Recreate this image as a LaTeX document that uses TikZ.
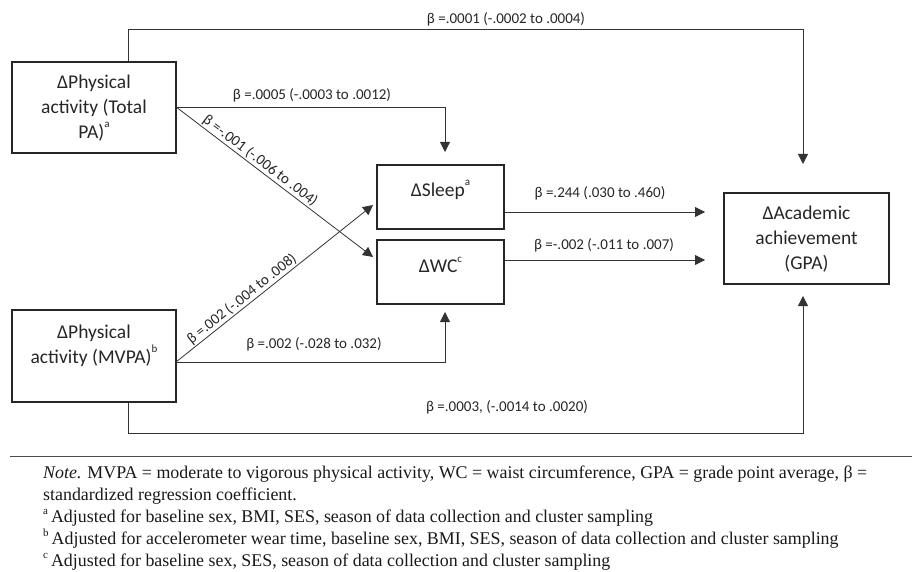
\documentclass[tikz,border=0pt]{standalone}
\usepackage{fontspec}
\setmainfont{Carlito}
\newfontfamily\notefont{Liberation Serif}
\usetikzlibrary{arrows.meta}
\newcommand{\supr}[1]{\raisebox{0.55em}{\fontsize{11}{11}\selectfont #1}}
\newcommand{\nsup}[1]{\raisebox{0.45em}{\fontsize{11}{11}\selectfont #1}\,}
\begin{document}
\begin{tikzpicture}[x=1pt,y=-1pt,
 box/.style={draw=black!85, line width=1.6pt, inner sep=0pt},
 conn/.style={draw=black!80, line width=0.8pt},
 arr/.style={conn, -{Triangle[length=10pt,width=10pt]}},
 lbl/.style={font=\fontsize{15}{18}\selectfont, text=black!85, inner sep=1pt},
 btxt/.style={font=\fontsize{19.5}{25}\selectfont, align=center, text=black!85, inner sep=0pt},
 note/.style={font=\notefont\fontsize{17.9}{22}\selectfont, align=left, anchor=north west, inner sep=0pt, text=black!90}]
\useasboundingbox (0,0) rectangle (912,572);
% boxes
\node[box, minimum width=164pt, minimum height=91pt] (pa) at (94,107.5) {};
\node[box, minimum width=164pt, minimum height=92pt] (mvpa) at (94,356) {};
\node[box, minimum width=127pt, minimum height=64pt] (sleep) at (440.5,197) {};
\node[box, minimum width=127pt, minimum height=64pt] (wc) at (440.5,272) {};
\node[box, minimum width=165pt, minimum height=91pt] (acad) at (806.5,238.5) {};
% box texts
\node[btxt] (pat) at (94,108) {ΔPhysical\\activity (Total\\PA)\supr{a}};
\node[btxt] (mvpat) at (94,345.5) {ΔPhysical\\activity (MVPA)\supr{b}};
\node[btxt] (sleept) at (440.5,190) {ΔSleep\supr{a}};
\node[btxt] (wct) at (440.5,265) {ΔWC\supr{c}};
\node[btxt] (acadt) at (806.5,239) {ΔAcademic\\achievement\\(GPA)};
% coordinates
\coordinate (t1) at (128,29); \coordinate (t2) at (803,29); \coordinate (t3) at (803,164);
\coordinate (s1) at (445,107.5); \coordinate (s2) at (445,152);
\coordinate (dw) at (373,257); \coordinate (ds) at (373,205);
\coordinate (mo) at (176,362);
\coordinate (w1) at (445,362); \coordinate (w2) at (445,312);
\coordinate (b1) at (128,433); \coordinate (b2) at (803,433); \coordinate (b3) at (803,296);
\coordinate (sa) at (705,212); \coordinate (wa) at (705,260);
% connectors
\draw[arr] (pa.north -| t1) -- (t1) -- (t2) -- (t3);
\draw[arr] (pa.east) -- (s1) -- (s2);
\draw[arr] (pa.east) -- node[lbl, sloped, above, pos=0.4] (ld1) {β =-.001 (-.006 to .004)} (dw);
\draw[arr] (mo) -- node[lbl, sloped, above, pos=0.36] (ld2) {β =.002 (-.004 to .008)} (ds);
\draw[arr] (mo) -- (w1) -- (w2);
\draw[arr] (mvpa.south -| b1) -- (b1) -- (b2) -- (b3);
\draw[arr] (sleep.east |- sa) -- (sa);
\draw[arr] (wc.east |- wa) -- (wa);
% labels
\node[lbl] (l1) at (506,19) {β =.0001 (-.0002 to .0004)};
\node[lbl] (l2) at (312,95) {β =.0005 (-.0003 to .0012)};
\node[lbl] (l5) at (600,193) {β =.244 (.030 to .460)};
\node[lbl] (l6) at (604,245) {β =-.002 (-.011 to .007)};
\node[lbl] (l7) at (314,344) {β =.002 (-.028 to .032)};
\node[lbl] (l8) at (507,407) {β =.0003, (-.0014 to .0020)};
% rule
\coordinate (r1) at (10,456); \coordinate (r2) at (912,456);
\draw[line width=1pt, black!70] (r1) -- (r2);
% note
\node[note] (nt) at (43,466) {\textit{Note.} MVPA = moderate to vigorous physical activity, WC = waist circumference, GPA = grade point average, β =\\
standardized regression coefficient.\\
\nsup{a}Adjusted for baseline sex, BMI, SES, season of data collection and cluster sampling\\
\nsup{b}Adjusted for accelerometer wear time, baseline sex, BMI, SES, season of data collection and cluster sampling\\
\nsup{c}Adjusted for baseline sex, SES, season of data collection and cluster sampling};
\end{tikzpicture}
\end{document}
